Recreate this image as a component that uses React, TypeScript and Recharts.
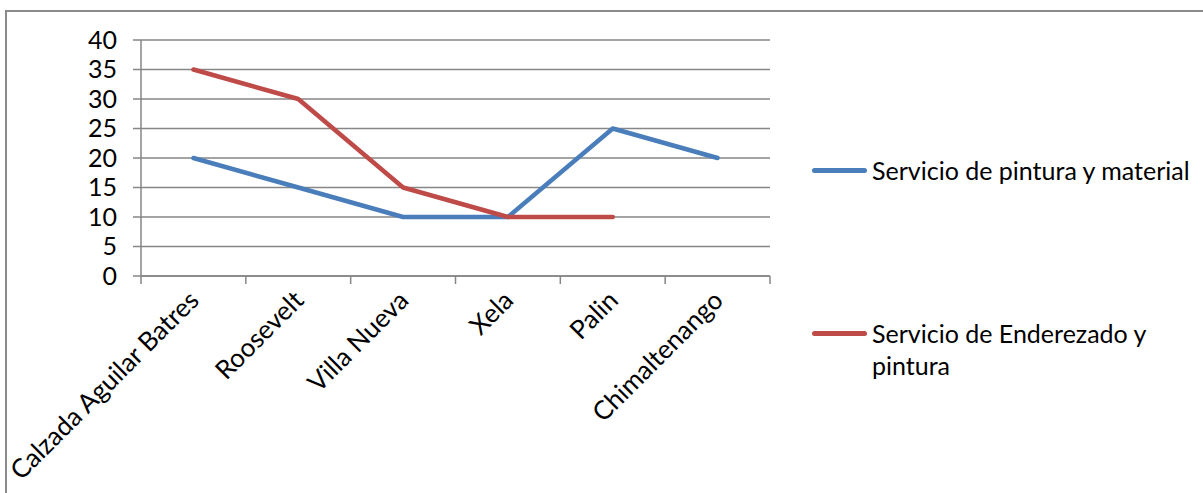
import React from 'react';
import { LineChart, Line, XAxis, YAxis, CartesianGrid, Legend } from 'recharts';

const categories = ['Calzada Aguilar Batres', 'Roosevelt', 'Villa Nueva', 'Xela', 'Palin', 'Chimaltenango'];
const pinturaMaterial = [20, 15, 10, 10, 25, 20];
const enderezadoPintura = [35, 30, 15, 10, 10, null];
const yTicks = [0, 5, 10, 15, 20, 25, 30, 35, 40];
const seriesNames = ['Servicio de pintura y material', 'Servicio de Enderezado y pintura'];

const W = 1203;
const H = 493;
const PLOT_LEFT = 141;
const PLOT_RIGHT = 770;
const PLOT_TOP = 40;
const PLOT_BOTTOM = 276;
const BAND = (PLOT_RIGHT - PLOT_LEFT) / categories.length;
const FONT = 'Lato, "Open Sans", sans-serif';
const AXIS_GRAY = '#868686';
const BLUE = '#4A7EBB';
const RED = '#BE4B48';

const chartData = categories.map((c, i) => ({
    name: c,
    pintura: pinturaMaterial[i],
    enderezado: enderezadoPintura[i]
}));

const CategoryTick = (props: any) => {
    const { x, payload, index } = props;
    const half = BAND / 2;
    const bx = x + 7;
    const by = 302;
    return (
        <g>
            <line x1={x - half} y1={PLOT_BOTTOM} x2={x - half} y2={PLOT_BOTTOM + 8} stroke={AXIS_GRAY} strokeWidth={1.5} />
            {index === categories.length - 1 && (
                <line x1={x + half} y1={PLOT_BOTTOM} x2={x + half} y2={PLOT_BOTTOM + 8} stroke={AXIS_GRAY} strokeWidth={1.5} />
            )}
            <text
                x={bx}
                y={by}
                textAnchor="end"
                transform={`rotate(-45, ${bx}, ${by})`}
                fontSize={26}
                fontFamily={FONT}
                fill="#000"
            >
                {payload.value}
            </text>
        </g>
    );
};

const LegendBox = () => (
    <div style={{ position: 'absolute', left: 812, top: 0, width: 380, fontFamily: FONT, fontSize: 25, color: '#000' }}>
        <div style={{ position: 'absolute', top: 154, left: 0, display: 'flex', alignItems: 'flex-start' }}>
            <div style={{ width: 55, height: 5, background: BLUE, borderRadius: 3, marginTop: 14 }} />
            <div style={{ marginLeft: 5, lineHeight: '32px', width: 320 }}>{seriesNames[0]}</div>
        </div>
        <div style={{ position: 'absolute', top: 317, left: 0, display: 'flex', alignItems: 'flex-start' }}>
            <div style={{ width: 55, height: 5, background: RED, borderRadius: 3, marginTop: 14 }} />
            <div style={{ marginLeft: 5, lineHeight: '32px', width: 300 }}>{seriesNames[1]}</div>
        </div>
    </div>
);

export default function App() {
    return (
        <div style={{ position: 'absolute', left: 0, top: 0, width: W, height: H, overflow: 'hidden', background: '#fff', fontFamily: FONT }}>
            <div style={{ position: 'absolute', left: 0, top: 0 }}>
                <LineChart
                    width={W}
                    height={H}
                    data={chartData}
                    margin={{ top: PLOT_TOP, right: W - PLOT_RIGHT, left: PLOT_LEFT - 40, bottom: 17 }}
                >
                    <CartesianGrid vertical={false} stroke={AXIS_GRAY} strokeWidth={1.5} />
                    <XAxis
                        dataKey="name"
                        interval={0}
                        height={H - PLOT_BOTTOM - 17}
                        padding={{ left: BAND / 2, right: BAND / 2 }}
                        axisLine={{ stroke: AXIS_GRAY, strokeWidth: 1.5 }}
                        tickLine={false}
                        tick={<CategoryTick />}
                    />
                    <YAxis
                        width={40}
                        domain={[0, 40]}
                        ticks={yTicks}
                        interval={0}
                        tickSize={8}
                        tickMargin={16}
                        axisLine={{ stroke: AXIS_GRAY, strokeWidth: 1.5 }}
                        tickLine={{ stroke: AXIS_GRAY, strokeWidth: 1.5 }}
                        tick={{ fill: '#000', fontSize: 25, fontFamily: FONT }}
                    />
                    <Legend content={<LegendBox />} wrapperStyle={{ position: 'absolute', left: 0, top: 0, width: 0, height: 0 }} />
                    <Line
                        type="linear"
                        dataKey="pintura"
                        name={seriesNames[0]}
                        stroke={BLUE}
                        strokeWidth={4.5}
                        strokeLinecap="round"
                        strokeLinejoin="round"
                        dot={false}
                        activeDot={false}
                        isAnimationActive={false}
                    />
                    <Line
                        type="linear"
                        dataKey="enderezado"
                        name={seriesNames[1]}
                        stroke={RED}
                        strokeWidth={4.5}
                        strokeLinecap="round"
                        strokeLinejoin="round"
                        dot={false}
                        activeDot={false}
                        isAnimationActive={false}
                    />
                </LineChart>
            </div>
            <div
                style={{
                    position: 'absolute',
                    left: 5,
                    top: 10,
                    width: W,
                    height: H,
                    borderTop: '2px solid #8a8a8a',
                    borderLeft: '2px solid #8a8a8a',
                    pointerEvents: 'none',
                    zIndex: 5
                }}
            />
        </div>
    );
}
